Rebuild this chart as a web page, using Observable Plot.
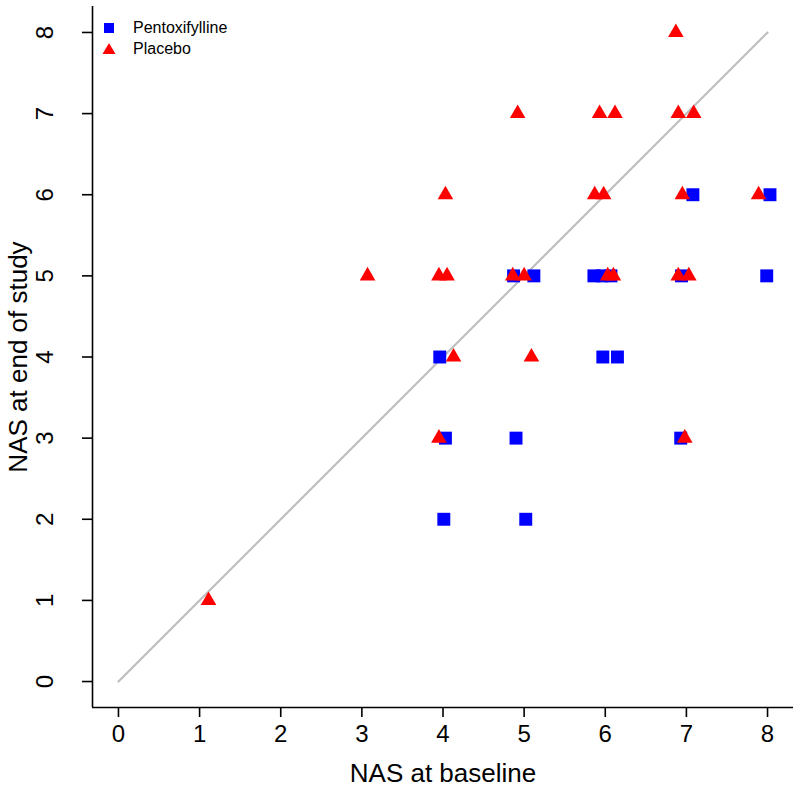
<!DOCTYPE html>
<html>
<head>
<meta charset="utf-8">
<script src="https://cdn.jsdelivr.net/npm/d3@7"></script>
<script src="https://cdn.jsdelivr.net/npm/@observablehq/plot@0.6"></script>
<style>
  html, body { margin: 0; padding: 0; background: #fff; }
  #wrap { position: relative; width: 800px; height: 794px; font-family: "Liberation Sans", Arial, Helvetica, sans-serif; }
  #legend { position: absolute; left: 101px; top: 17px; font-size: 16px; line-height: 21px; color: #000; }
  #legend div { display: flex; align-items: center; }
  #legend svg { margin-right: 16px; }
</style>
</head>
<body>
<div id="wrap">
  <div id="chart"></div>
  <div id="legend">
    <div><svg width="16" height="16" viewBox="-8 -8 16 16"><rect x="-5" y="-5" width="10" height="10" fill="#0000ff"/></svg>Pentoxifylline</div>
    <div><svg width="16" height="16" viewBox="-8 -8 16 16"><path d="M0,-6 L6.5,5 L-6.5,5 Z" fill="#ff0000"/></svg>Placebo</div>
  </div>
</div>
<script>
// Pentoxifylline: NAS baseline (jittered) and end of study
const ptxBaseline = [7.08, 8.03, 4.87, 5.12, 5.86, 5.96, 6.07, 6.94, 7.99, 3.96, 5.97, 6.15, 4.03, 4.90, 6.93, 4.01, 5.02];
const ptxEnd      = [6,    6,    5,    5,    5,    5,    5,    5,    5,    4,    4,    4,    3,    3,    3,    2,    2];

// Placebo
const plcBaseline = [6.87, 4.92, 5.93, 6.12, 6.90, 7.09, 4.03, 5.87, 5.98, 6.95, 7.89, 3.07, 3.95, 4.05, 4.86, 5.00, 6.03, 6.10, 6.90, 7.03, 4.13, 5.09, 3.95, 6.98, 1.11];
const plcEnd      = [8,    7,    7,    7,    7,    7,    6,    6,    6,    6,    6,    5,    5,    5,    5,    5,    5,    5,    5,    5,    4,    4,    3,    3,    1];

const ticks = [0, 1, 2, 3, 4, 5, 6, 7, 8];
const identity = [0, 8];

const ptx = ptxBaseline.map((x, i) => ({x, y: ptxEnd[i]}));
const plc = plcBaseline.map((x, i) => ({x, y: plcEnd[i]}));

const dom = [-0.32, 8.32];

const chart = Plot.plot({
  width: 800,
  height: 794,
  marginLeft: 92,
  marginRight: 7,
  marginTop: 6,
  marginBottom: 87,
  style: {fontFamily: '"Liberation Sans", Arial, Helvetica, sans-serif', background: "#fff", color: "#000"},
  x: {domain: dom, ticks: ticks},
  y: {domain: dom, ticks: ticks},
  marks: [
    Plot.line(identity.map(v => ({x: v, y: v})), {x: "x", y: "y", stroke: "#bebebe", strokeWidth: 2.2}),
    Plot.ruleX([dom[0]], {stroke: "#000", strokeWidth: 1.6}),
    Plot.ruleY([dom[0]], {stroke: "#000", strokeWidth: 1.6}),
    Plot.axisX({ticks: ticks, tickSize: 10, tickPadding: 7, fontSize: 24, strokeWidth: 1.6, label: "NAS at baseline", labelAnchor: "center", labelArrow: "none", labelOffset: 74}),
    Plot.axisY({ticks: ticks, tickSize: 10, tickPadding: 30, fontSize: 24, strokeWidth: 1.6, tickRotate: -90, label: "NAS at end of study", labelAnchor: "center", labelArrow: "none", labelOffset: 84}),
    Plot.dot(ptx, {x: "x", y: "y", symbol: "square", r: 7.3, fill: "#0000ff", stroke: "none"}),
    Plot.dot(plc, {x: "x", y: "y", symbol: "triangle", r: 5.8, fill: "#ff0000", stroke: "none"})
  ]
});
chart.querySelectorAll('[aria-label="x-axis label"] text, [aria-label="y-axis label"] text').forEach(t => {
  t.style.fontSize = "26px";
});
document.getElementById("chart").appendChild(chart);
</script>
</body>
</html>
